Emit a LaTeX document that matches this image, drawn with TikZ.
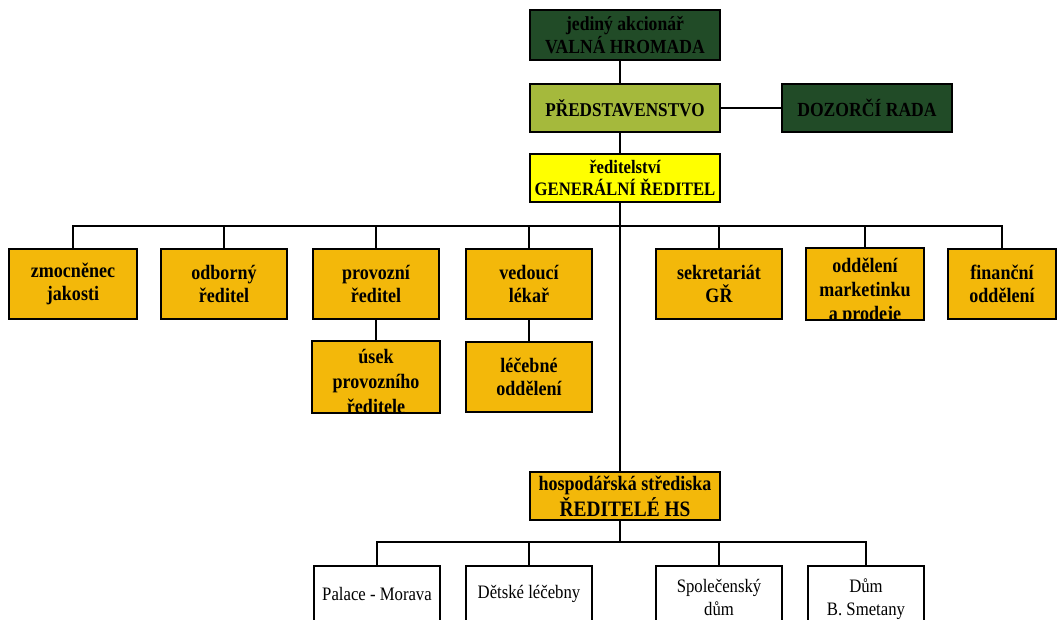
\documentclass[tikz,border=0pt]{standalone}
\usepackage{fontspec}
\setmainfont{Liberation Serif}[FakeStretch=0.88]
\definecolor{darkgreen}{HTML}{214B27}
\definecolor{olivegreen}{HTML}{A5B93C}
\definecolor{boxyellow}{HTML}{FFFF00}
\definecolor{boxorange}{HTML}{F3B80A}
\begin{document}
\begin{tikzpicture}[x=1pt,y=-1pt,
  box/.style={draw=black,line width=2pt,inner sep=0pt,align=center,text=black},
  topbox/.style={box,fill=darkgreen,font=\bfseries\fontsize{20}{23}\selectfont},
  boardbox/.style={box,fill=olivegreen,font=\bfseries\fontsize{19.5}{23}\selectfont},
  gmbox/.style={box,fill=boxyellow,font=\bfseries\fontsize{19}{22}\selectfont},
  unitbox/.style={box,fill=boxorange,font=\bfseries\fontsize{20.5}{23}\selectfont},
  unitfill/.style={unitbox,draw=none},
  centrebox/.style={box,fill=white,font=\fontsize{19}{23}\selectfont},
  rowtext/.style={inner sep=0pt,align=center,text=black},
  link/.style={draw=black,line width=2pt},
  frame/.style={draw=black,line width=2pt}]
\useasboundingbox (0,0) rectangle (1057,620);
\fill[white] (0,0) rectangle (1057,620);
\clip (0,0) rectangle (1057,620);

% governing bodies
\node[topbox,minimum width=190,minimum height=50] (vh) at (625,35) {jediný akcionář\\VALNÁ HROMADA};
\node[boardbox,minimum width=190,minimum height=48] (pred) at (625,108) {PŘEDSTAVENSTVO};
\node[topbox,minimum width=170,minimum height=48] (dozor) at (867,108) {DOZORČÍ RADA};
\node[gmbox,minimum width=190,minimum height=48] (gr) at (625,178) {ředitelství\\GENERÁLNÍ ŘEDITEL};

% departments under the general manager
\node[unitbox,minimum width=128,minimum height=70] (zmoc) at (73,284) {zmocněnec\\jakosti};
\node[unitbox,minimum width=126,minimum height=70] (odb) at (224,284) {odborný\\ředitel};
\node[unitbox,minimum width=126,minimum height=70] (prov) at (376,284) {provozní\\ředitel};
\node[unitbox,minimum width=126,minimum height=70] (ved) at (529,284) {vedoucí\\lékař};
\node[unitbox,minimum width=126,minimum height=70] (sekr) at (719,284) {sekretariát\\GŘ};
\node[unitfill,minimum width=116,minimum height=70] (mark) at (865,284) {};
\node[unitbox,minimum width=108,minimum height=70] (fin) at (1002,284) {finanční\\oddělení};

\node[unitfill,minimum width=126,minimum height=70] (usek) at (376,377) {};
\node[unitbox,minimum width=126,minimum height=70] (lec) at (529,377) {léčebné\\oddělení};

% texts that run over the lower edge of their boxes
\begin{scope}
  \clip (mark.south west) rectangle (mark.north east);
  \node[rowtext,font=\bfseries\fontsize{20.5}{24}\selectfont] (marktext) at ([yshift=-7pt]mark.center)
    {oddělení\\marketinku\\a prodeje};
\end{scope}
\draw[frame] (mark.south west) rectangle (mark.north east);
\begin{scope}
  \clip (usek.south west) rectangle (usek.north east);
  \node[rowtext,font=\bfseries\fontsize{20.5}{25}\selectfont] (usektext) at ([yshift=-4pt]usek.center)
    {úsek\\provozního\\ředitele};
\end{scope}
\draw[frame] (usek.south west) rectangle (usek.north east);

% profit centres
\node[unitbox,minimum width=190,minimum height=48,font=\bfseries\fontsize{20.5}{26}\selectfont] (hs) at (625,496)
  {hospodářská střediska\\{\fontsize{22}{26}\selectfont ŘEDITELÉ HS}};
\node[centrebox,minimum width=126,minimum height=56] (palace) at (377,594) {Palace - Morava};
\node[centrebox,minimum width=126,minimum height=56] (detske) at (529,594) {Dětské léčebny};
\node[centrebox,minimum width=126,minimum height=62] (spol) at (719,597) {Společenský\\dům};
\node[centrebox,minimum width=116,minimum height=66] (dum) at (866,599) {Dům\\B. Smetany};

% connectors
\coordinate (bus) at (620,226);
\coordinate (lowbus) at (620,542);
\draw[link] ([xshift=-5pt]vh.south) -- ([xshift=-5pt]pred.north);
\draw[link] (pred.east) -- (dozor.west);
\draw[link] ([xshift=-5pt]pred.south) -- ([xshift=-5pt]gr.north);
\draw[link] ([xshift=-5pt]gr.south) -- ([xshift=-5pt]hs.north);
\draw[link] (zmoc.north) |- (bus) -| (fin.north);
\foreach \n in {odb,prov,ved,sekr,mark}
  \draw[link] (\n.north) -- (\n.north |- bus);
\draw[link] (prov.south) -- (usek.north);
\draw[link] (ved.south) -- (lec.north);
\draw[link] ([xshift=-5pt]hs.south) -- (lowbus);
\draw[link] (palace.north) |- (lowbus) -| (dum.north);
\foreach \n in {detske,spol}
  \draw[link] (\n.north) -- (\n.north |- lowbus);
\end{tikzpicture}
\end{document}
